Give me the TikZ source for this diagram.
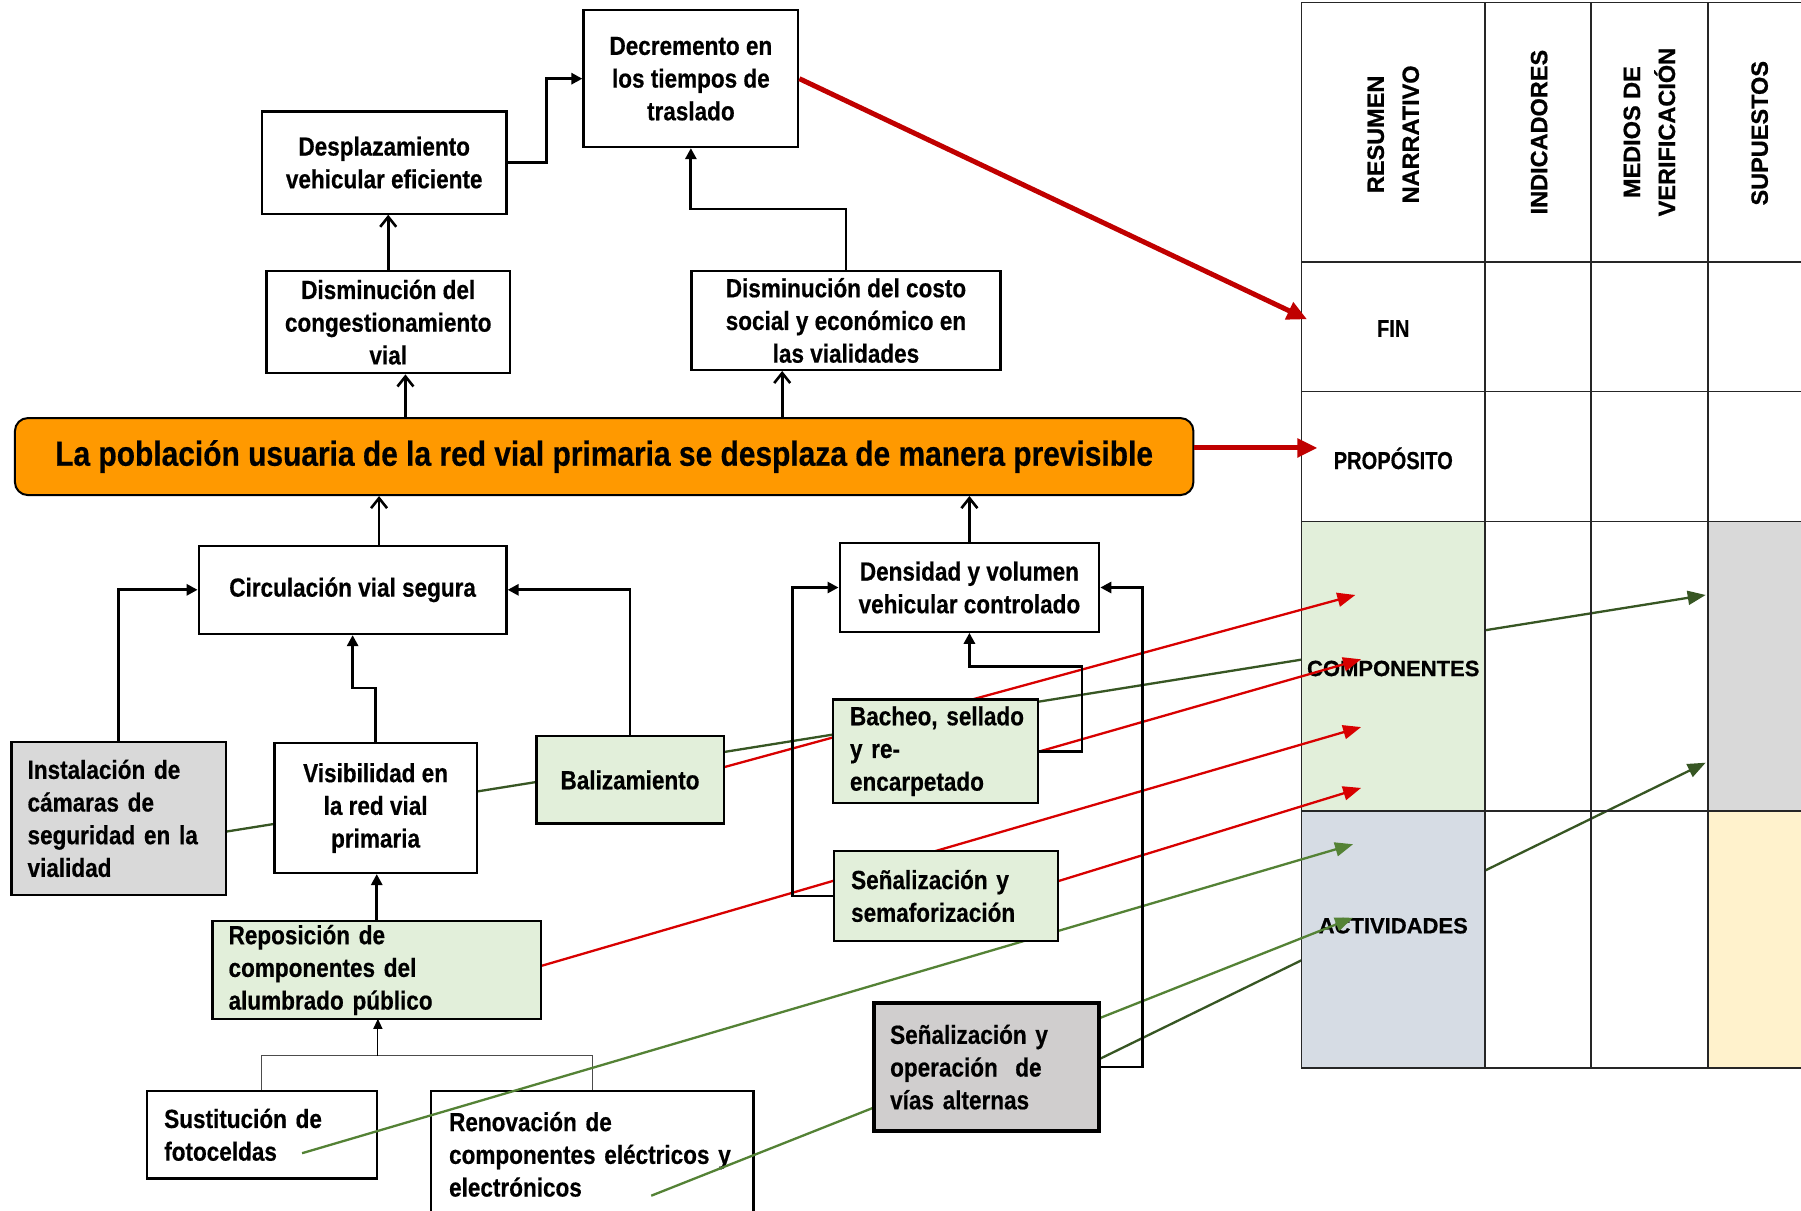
\documentclass[tikz,border=0pt]{standalone}
\usepackage{fontspec}
\setmainfont{Liberation Sans}
\newfontfamily\nf{Liberation Sans}[FakeStretch=0.86,FakeBold=0.5]
\newfontfamily\nfb{Liberation Sans}[FakeStretch=0.82,FakeBold=0.5]
\newfontfamily\hf{Liberation Sans}[FakeBold=0.8]
\usetikzlibrary{arrows.meta,calc}
\definecolor{lgreen}{HTML}{E2EFDA}
\definecolor{lgray}{HTML}{D9D9D9}
\definecolor{vgray}{HTML}{D0CECE}
\definecolor{lblue}{HTML}{D6DCE4}
\definecolor{lyel}{HTML}{FFF2CC}
\definecolor{orng}{HTML}{FF9900}
\definecolor{dred}{HTML}{C00000}
\definecolor{tred}{HTML}{D80000}
\definecolor{dgreen}{HTML}{375623}
\definecolor{mgreen}{HTML}{548235}
\definecolor{gridc}{HTML}{262626}
\tikzset{
  box/.style={draw, fill=white, line width=2.2pt, inner sep=0pt, align=center,
    font=\nf\bfseries\fontsize{26.2pt}{32.7pt}\selectfont},
  lbox/.style={box, align=left},
  conn/.style={line width=2.8pt, -{Triangle[length=11pt,width=11pt]}},
  oconn/.style={line width=2.6pt, -{Straight Barb[length=10pt,width=16pt,line width=2.6pt]}},
  tconn/.style={line width=1.2pt, draw=black!70},
  cline/.style={line width=2.3pt, -{Triangle[length=18pt,width=14pt]}},
  bigred/.style={draw=dred, line width=5pt, -{Triangle[length=20pt,width=18pt]}},
  hdr/.style={inner sep=0pt, align=center, font=\hf\bfseries\fontsize{23.5pt}{35pt}\selectfont},
  rowl/.style={inner sep=0pt, font=\nfb\bfseries\fontsize{24.5pt}{30pt}\selectfont},
  rowc/.style={inner sep=0pt, font=\hf\bfseries\fontsize{22pt}{26pt}\selectfont},
}
\begin{document}
\hyphenpenalty=10000 \exhyphenpenalty=10000
\begin{tikzpicture}[x=1.1486pt, y=-1.1486pt]
\useasboundingbox (0,0) rectangle (1568,1054);
\clip (0,0) rectangle (1568,1054);
\fill[white] (0,0) rectangle (1568,1054);

% coordinates for free line ends
\coordinate (g1s) at (197,724);  \coordinate (g1e) at (1485,518);
\coordinate (g2s) at (900,950);  \coordinate (g2e) at (1485,664);
\coordinate (r1s) at (630,668);  \coordinate (r1e) at (1180,518);
\coordinate (r2s) at (815,680);  \coordinate (r2e) at (1185,574);
\coordinate (r3s) at (471,841);  \coordinate (r3e) at (1185,633);
\coordinate (r4s) at (860,786);  \coordinate (r4e) at (1185,686);
\coordinate (g3s) at (263,1004); \coordinate (g3e) at (1178,735);
\coordinate (g4s) at (567,1041); \coordinate (g4e) at (1178,799);
\coordinate (finpt) at (1138,278);
\coordinate (proppt) at (1147,390);
\coordinate (x353) at (353,0);
\coordinate (x681) at (681,0);
\coordinate (x330) at (330,0);
\coordinate (jn) at (329,919);

% dark green lines behind the table cells
\draw[cline, draw=dgreen] (g1s) -- (g1e);
\draw[cline, draw=dgreen] (g2s) -- (g2e);

% table
\fill[lgreen] (1133,454) rectangle (1293,706);
\fill[lgray] (1487,454) rectangle (1580,706);
\fill[lblue] (1133,706) rectangle (1293,930);
\fill[lyel] (1487,706) rectangle (1580,930);
\foreach \xx in {1133,1293,1385,1487} {\draw[gridc, line width=1.5pt] (\xx,2) -- (\xx,930);}
\foreach \yy in {2,228,341,454,706,930} {\draw[gridc, line width=1.5pt] (1133,\yy) -- (1580,\yy);}
\node[hdr, rotate=90] (hres) at (1213,117) {RESUMEN\\NARRATIVO};
\node[hdr, rotate=90] (hind) at (1340,115) {INDICADORES};
\node[hdr, rotate=90] (hmed) at (1436,115) {MEDIOS DE\\VERIFICACIÓN};
\node[hdr, rotate=90] (hsup) at (1532,116) {SUPUESTOS};
\node[rowl] (fin) at (1213,286) {FIN};
\node[rowl] (pro) at (1213,399) {PROPÓSITO};
\node[rowc] (comp) at (1213,582) {COMPONENTES};
\node[rowc] (act) at (1213,806) {ACTIVIDADES};

% bottom boxes (colored lines run over them)
\node[lbox, minimum width=229.7pt, minimum height=87.3pt, text width=195.3pt] (sust) at (228,988) {Sustitución~de\\fotoceldas};
\node[lbox, minimum width=322.8pt, minimum height=126.3pt, text width=286pt] (reno) at (515.5,1005) {Renovación~de\\componentes~eléctricos~y\\electrónicos};
\draw[tconn] (sust.north) -- (sust.north |- jn) -| (reno.north);
\draw[line width=1.2pt, -{Triangle[length=10pt,width=9pt]}] (jn) -- (jn |- 0,887);

% colored connectors
\draw[cline, draw=tred] (r1s) -- (r1e);
\draw[cline, draw=tred] (r2s) -- (r2e);
\draw[cline, draw=tred] (r3s) -- (r3e);
\draw[cline, draw=tred] (r4s) -- (r4e);
\draw[cline, draw=mgreen] (g3s) -- (g3e);
\draw[cline, draw=mgreen] (g4s) -- (g4e);

% boxes
\node[box, minimum width=214.8pt, minimum height=136.7pt] (dec) at (601.5,68.5) {Decremento en\\los tiempos de\\traslado};
\node[box, minimum width=244.6pt, minimum height=102.2pt] (desp) at (334.5,141.5) {Desplazamiento\\vehicular eficiente};
\node[box, minimum width=243.5pt, minimum height=102.2pt] (cong) at (338,280.5) {Disminución del\\congestionamiento\\vial};
\node[box, minimum width=309pt, minimum height=98.8pt] (costo) at (736.5,279) {Disminución del costo\\social y económico en\\las vialidades};
\node[draw, line width=2pt, fill=orng, rounded corners=13pt, minimum width=1178.5pt, minimum height=77pt, inner sep=0pt, font=\nf\bfseries\fontsize{34.8pt}{40pt}\selectfont] (prop) at (526,397.5) {La población usuaria de la red vial primaria se desplaza de manera previsible};
\node[box, minimum width=307.8pt, minimum height=88.4pt] (circ) at (307,513.5) {Circulación vial segura};
\node[box, minimum width=259.6pt, minimum height=88.4pt] (dens) at (844,511.5) {Densidad y volumen\\vehicular controlado};
\node[lbox, fill=lgray, minimum width=214.8pt, minimum height=152.8pt, text width=182.6pt] (inst) at (103.5,712.5) {Instalación~de\\cámaras~de\\seguridad~en~la\\vialidad};
\node[box, minimum width=202.2pt, minimum height=129.8pt] (vis) at (327,703.5) {Visibilidad en\\la red vial\\primaria};
\node[box, fill=lgreen, minimum width=187.2pt, minimum height=87.3pt] (bal) at (548.5,679) {Balizamiento};
\node[lbox, fill=lgreen, minimum width=205.6pt, minimum height=103.4pt, text width=171.1pt] (bach) at (814.5,654) {Bacheo,~sellado\\y~re-\\encarpetado};
\node[lbox, fill=lgreen, minimum width=224pt, minimum height=89.6pt, text width=189.5pt] (sem) at (823.5,780) {Señalización~y\\semaforización};
\node[lbox, fill=lgreen, minimum width=328.5pt, minimum height=97.6pt, text width=296.3pt] (repo) at (328,844.5) {Reposición~de\\componentes~del\\alumbrado~público};
\node[lbox, fill=vgray, line width=4pt, minimum width=225.1pt, minimum height=128.6pt, text width=193pt] (vias) at (859,929) {Señalización~y\\operación~~de\\vías~alternas};

% black connectors
\draw[conn] (desp.east) -- ++(34,0) |- (dec.west);
\draw[oconn] (cong.north) -- (cong.north |- desp.south);
\draw[conn] (costo.north) -- ++(0,-53) -| (dec.south);
\draw[oconn] (prop.north -| x353) -- (cong.south -| x353);
\draw[oconn] (prop.north -| x681) -- (costo.south -| x681);
\draw[oconn] (circ.north -| x330) -- (prop.south -| x330);
\draw[oconn] (dens.north) -- (dens.north |- prop.south);
\draw[conn] (inst.north) |- (circ.west);
\draw[conn] (vis.north) -- ++(0,-47) -| (circ.south);
\draw[conn] (bal.north) |- (circ.east);
\draw[conn] (bach.east) -- ++(37,0) -- ++(0,-74) -| (dens.south);
\draw[conn] (sem.west) -- ++(-35,0) |- (dens.west);
\draw[conn] (vias.east) -- ++(36,0) |- (dens.east);
\draw[conn] (repo.north) -- (repo.north |- vis.south);

% big red arrows
\draw[bigred] (dec.east) -- (finpt);
\draw[bigred] (prop.east |- proppt) -- (proppt);
\end{tikzpicture}
\end{document}
